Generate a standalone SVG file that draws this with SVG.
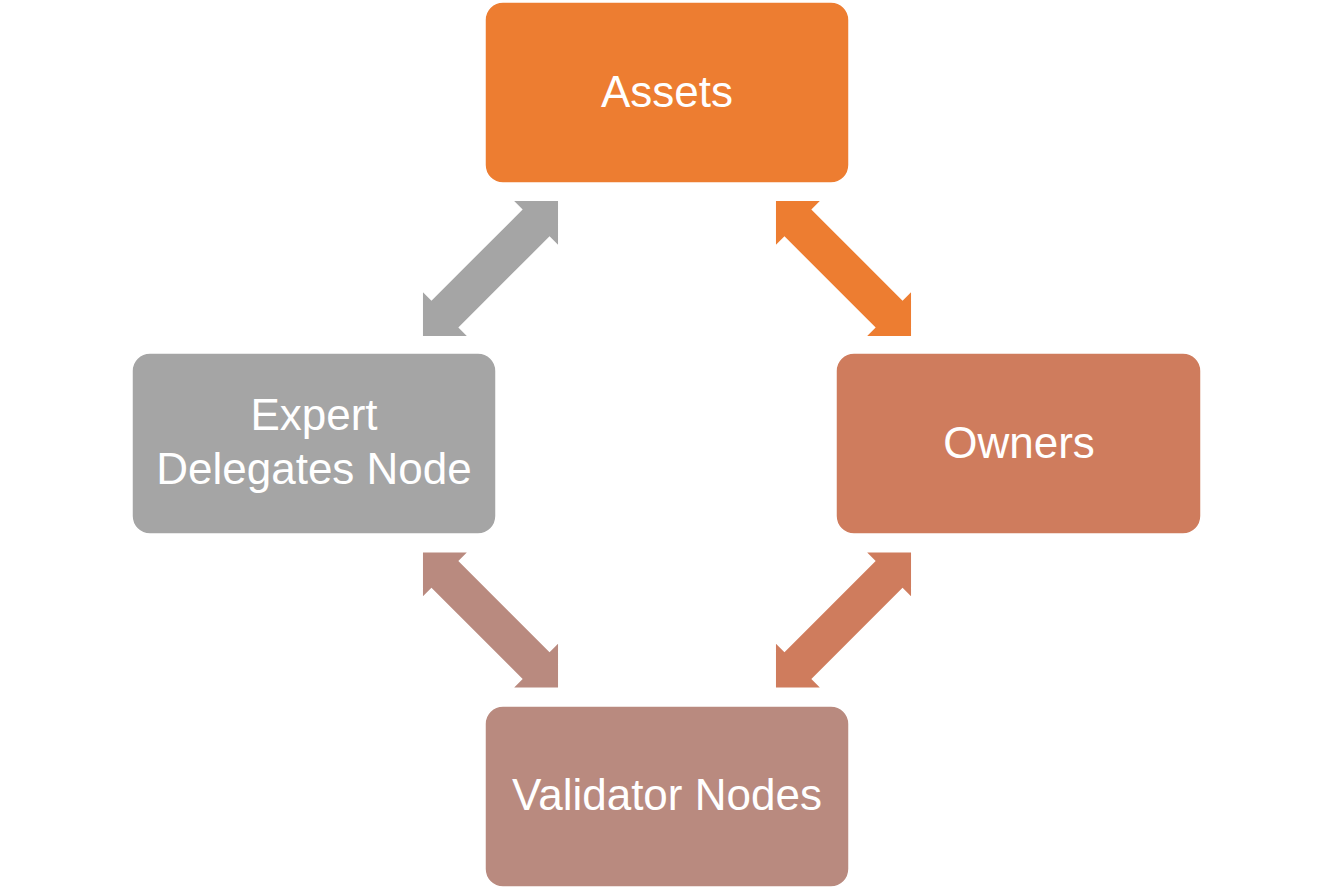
<svg xmlns="http://www.w3.org/2000/svg" width="1334" height="889" viewBox="0 0 1334 889">
<style>
.box{stroke:#ffffff;stroke-width:1.5}
.lbl{font-family:"Liberation Sans",Arial,sans-serif;font-size:44px;fill:#ffffff;text-anchor:middle}
</style>
<defs>
<polygon id="dbl" points="-95.5,0 -64.5,-31 -64.5,-19 64.5,-19 64.5,-31 95.5,0 64.5,31 64.5,19 -64.5,19 -64.5,31"/>
</defs>
<rect width="1334" height="889" fill="#ffffff"/>
<g id="connectors">
<use href="#dbl" fill="#A5A5A5" transform="translate(490.5,268.5) rotate(-45)"/>
<use href="#dbl" fill="#ED7D31" transform="translate(843.5,268.5) rotate(45)"/>
<use href="#dbl" fill="#B98A7F" transform="translate(490.5,620) rotate(45)"/>
<use href="#dbl" fill="#CF7C5D" transform="translate(843.5,620) rotate(-45)"/>
</g>
<g id="assets">
<rect class="box" x="485" y="2" width="364" height="181" rx="18" fill="#ED7D31"/>
<text class="lbl" x="667" y="107">Assets</text>
</g>
<g id="expert">
<rect class="box" x="132" y="353" width="364" height="181" rx="18" fill="#A5A5A5"/>
<text class="lbl" x="314" y="430">Expert</text>
<text class="lbl" x="314" y="484">Delegates Node</text>
</g>
<g id="owners">
<rect class="box" x="836" y="353" width="365" height="181" rx="18" fill="#CF7C5D"/>
<text class="lbl" x="1019" y="458">Owners</text>
</g>
<g id="validator">
<rect class="box" x="485" y="706" width="364" height="181" rx="18" fill="#B98A7F"/>
<text class="lbl" x="667" y="810">Validator Nodes</text>
</g>
</svg>
